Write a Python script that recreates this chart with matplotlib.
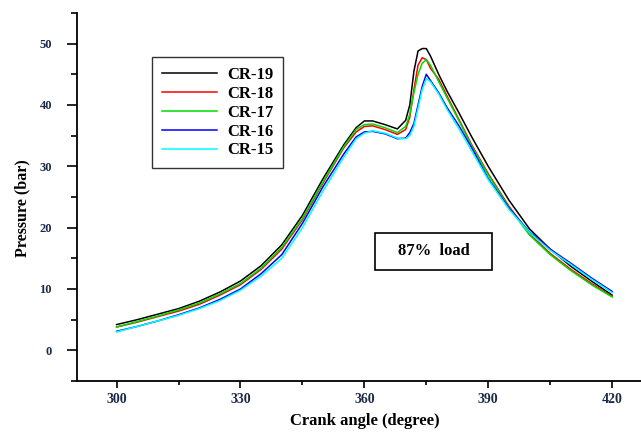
import matplotlib
matplotlib.use('Agg')
import matplotlib.pyplot as plt
from matplotlib.patches import Rectangle
from matplotlib.ticker import MultipleLocator

# crank angle (deg) and cylinder pressure (bar)
angle = [300, 305, 310, 315, 320, 325, 330, 335, 340, 345, 350, 355, 358, 360,
         362, 365, 368, 370, 371, 372, 373, 374, 375, 376, 378, 380, 383, 386,
         390, 395, 400, 405, 410, 415, 420]

cr19 = [4.2, 5.0, 5.9, 6.8, 8.0, 9.5, 11.3, 13.8, 17.2, 22.0, 28.0, 33.5, 36.3, 37.4,
        37.4, 36.8, 36.1, 37.5, 40.0, 45.5, 48.8, 49.2, 49.2, 48.0, 45.0, 42.3, 38.6, 34.8,
        30.0, 24.5, 19.8, 16.5, 13.7, 11.3, 9.0]
cr18 = [3.8, 4.6, 5.5, 6.4, 7.5, 9.0, 10.7, 13.2, 16.5, 21.3, 27.3, 33.0, 35.6, 36.5,
        36.6, 36.0, 35.2, 36.0, 38.0, 42.5, 46.5, 47.7, 47.4, 46.0, 44.2, 41.5, 37.5, 33.5,
        28.8, 23.5, 19.0, 15.8, 13.2, 10.9, 8.8]
cr17 = [3.8, 4.7, 5.6, 6.6, 7.7, 9.2, 10.9, 13.4, 16.8, 21.5, 27.5, 33.2, 36.0, 36.8,
        36.9, 36.3, 35.5, 36.5, 38.5, 42.0, 45.0, 46.8, 47.4, 46.5, 43.8, 41.2, 37.3, 33.3,
        28.6, 23.3, 18.8, 15.6, 13.0, 10.7, 8.7]
cr16 = [3.1, 3.9, 4.8, 5.8, 6.9, 8.3, 10.0, 12.5, 15.6, 20.7, 26.7, 32.0, 34.8, 35.6,
        35.7, 35.3, 34.5, 34.6, 35.5, 37.0, 40.0, 43.0, 45.0, 44.0, 42.0, 39.6, 36.5, 33.0,
        28.0, 23.2, 19.3, 16.5, 14.2, 11.8, 9.6]
cr15 = [3.0, 3.9, 4.8, 5.7, 6.8, 8.1, 9.8, 12.1, 15.0, 20.0, 26.0, 31.5, 34.5, 35.4,
        35.8, 35.4, 34.6, 34.5, 35.0, 36.5, 39.5, 42.5, 44.3, 43.8, 41.8, 39.3, 36.0, 32.5,
        27.8, 23.0, 19.2, 16.3, 14.0, 11.6, 9.4]

labels = ['CR-19', 'CR-18', 'CR-17', 'CR-16', 'CR-15']
colors = ['black', 'red', '#00dd00', 'blue', 'cyan']

plt.rcParams['font.family'] = 'Liberation Serif'
plt.rcParams['font.weight'] = 'bold'

fig = plt.figure(figsize=(6.41, 4.33), dpi=100)
ax = fig.add_axes([0.1201, 0.1201, 0.8799, 0.8499])

for p, lab, c in zip([cr19, cr18, cr17, cr16, cr15], labels, colors):
    ax.plot(angle, p, color=c, lw=1.1, label=lab)

ax.set_xlim(290.4, 427)
ax.set_ylim(-5, 55)

ax.xaxis.set_major_locator(MultipleLocator(30))
ax.xaxis.set_minor_locator(MultipleLocator(15))
ax.yaxis.set_major_locator(MultipleLocator(10))
ax.yaxis.set_minor_locator(MultipleLocator(5))

for s in ['top', 'right']:
    ax.spines[s].set_visible(False)
for s in ['left', 'bottom']:
    ax.spines[s].set_linewidth(1.3)

ax.tick_params(axis='x', which='major', length=5, width=1.2, pad=4,
               labelsize=10, labelcolor='#1c2a4a')
ax.tick_params(axis='x', which='minor', length=3, width=1.2)
ax.tick_params(axis='y', which='major', length=7, width=1.2, pad=11,
               labelsize=9, labelcolor='#1c2a4a')
ax.tick_params(axis='y', which='minor', length=4, width=1.2)

ax.set_xlabel('Crank angle (degree)', fontsize=12, fontweight='bold')
ax.set_ylabel('Pressure (bar)', fontsize=11.5, fontweight='bold')
ax.xaxis.label.set_va('center')
ax.yaxis.label.set_va('center')
ax.xaxis.set_label_coords(0.51, -0.108)
ax.yaxis.set_label_coords(-0.097, 0.469)

leg = ax.legend(loc='upper left', bbox_to_anchor=(0.133, 0.880), fontsize=12,
                handlelength=3.3, handletextpad=0.6, labelspacing=0.17,
                borderpad=0.6, fancybox=False, frameon=True, borderaxespad=0)
leg.get_frame().set_edgecolor('black')
leg.get_frame().set_linewidth(1.0)

# boxed load note
ax.add_patch(Rectangle((0.528, 0.302), 0.208, 0.100, transform=ax.transAxes,
                       fc='white', ec='black', lw=1.2, zorder=3))
ax.text(0.632, 0.352, '87%  load', transform=ax.transAxes, fontsize=12,
        fontweight='bold', ha='center', va='center', zorder=4)

fig.savefig('out.png', dpi=100)
